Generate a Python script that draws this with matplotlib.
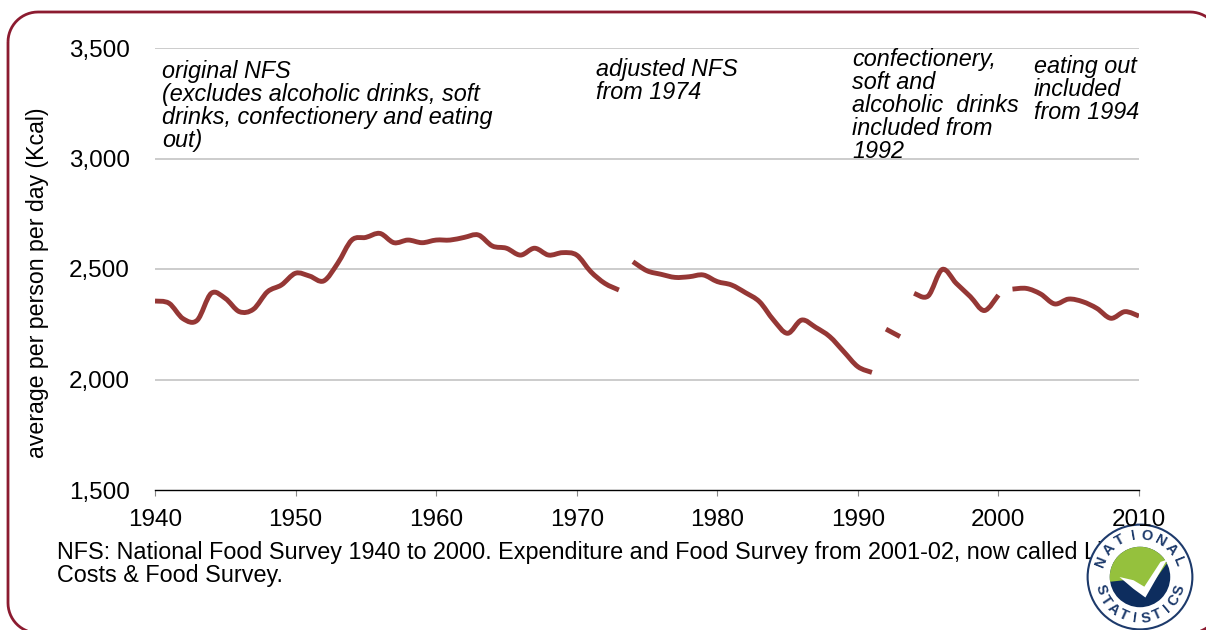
import matplotlib
matplotlib.use("Agg")
import matplotlib.pyplot as plt
from matplotlib.path import Path
from matplotlib.patches import PathPatch, Circle, Polygon
import numpy as np

plt.rcParams['font.family'] = ['Liberation Sans', 'DejaVu Sans']

# ---------------- data ----------------
years = list(range(1940, 2011))
kcal = [2355, 2345, 2275, 2268, 2390, 2367, 2307, 2318, 2397, 2428,
        2481, 2468, 2446, 2526, 2631, 2643, 2661, 2619, 2631, 2619,
        2631, 2631, 2643, 2654, 2604, 2594, 2563, 2594, 2563, 2574,
        2563, 2488, 2435, 2405, 2533, 2492, 2476, 2462, 2465, 2473,
        2443, 2428, 2393, 2352, 2269, 2209, 2269, 2236, 2194, 2126,
        2058, 2032, 2228, 2194, 2390, 2378, 2498, 2435, 2375, 2312,
        2382, 2409, 2412, 2387, 2342, 2364, 2352, 2322, 2277, 2307,
        2287]
segment_starts = [1940, 1974, 1992, 1994, 2001]   # breaks in the series

y_ticks = [1500, 2000, 2500, 3000, 3500]
y_tick_labels = ["1,500", "2,000", "2,500", "3,000", "3,500"]
x_ticks = [1940, 1950, 1960, 1970, 1980, 1990, 2000, 2010]

notes = [
    (1940.5, "original NFS\n(excludes alcoholic drinks, soft\ndrinks, confectionery and eating\nout)"),
    (1971.4, "adjusted NFS\nfrom 1974"),
    (1989.6, "confectionery,\nsoft and\nalcoholic  drinks\nincluded from\n1992"),
    (2002.5, "eating out\nincluded\nfrom 1994"),
]
note_tops = [3447, 3457, 3502, 3470]
footnote = ("NFS: National Food Survey 1940 to 2000. Expenditure and Food Survey from 2001-02, now called Living\n"
            "Costs & Food Survey.")
ylabel = "average per person per day (Kcal)"

LINE = "#953735"
BORDER = "#8C1B30"

W, H = 1206, 630
fig = plt.figure(figsize=(W / 100, H / 100), dpi=100)
fig.patch.set_facecolor("white")


def rounded_rect_path(x0, y0, x1, y1, r):
    """Rounded rectangle in pixel units (origin top-left), returned in figure fractions."""
    pts = []
    def arc(cx, cy, a0, a1):
        for t in np.linspace(np.deg2rad(a0), np.deg2rad(a1), 16):
            pts.append((cx + r * np.cos(t), cy + r * np.sin(t)))
    # image coords: y down; angles measured with y down
    arc(x0 + r, y0 + r, 180, 270)      # top-left
    arc(x1 - r, y0 + r, 270, 360)      # top-right
    arc(x1 - r, y1 - r, 0, 90)         # bottom-right
    arc(x0 + r, y1 - r, 90, 180)       # bottom-left
    pts.append(pts[0])
    return Path([(px / W, 1 - py / H) for px, py in pts])


fig.patches.append(PathPatch(rounded_rect_path(8, 12, 1220, 633, 30), fill=False,
                             edgecolor=BORDER, linewidth=2.0, transform=fig.transFigure))

ax = fig.add_axes([155 / W, 1 - 490 / H, (1139 - 155) / W, (490 - 48) / H])
ax.set_zorder(11)
ax.patch.set_visible(False)
ax.set_xlim(1940, 2010)
ax.set_ylim(1500, 3500)

for s in ["top", "right", "left"]:
    ax.spines[s].set_visible(False)
ax.spines["bottom"].set_color("black")
ax.spines["bottom"].set_linewidth(1.0)

ax.set_yticks(y_ticks)
ax.set_yticklabels(y_tick_labels)
ax.set_xticks(x_ticks)
ax.tick_params(axis="y", length=0, pad=18, labelsize=17.5)
ax.tick_params(axis="x", length=4, direction="out", pad=10, labelsize=17.5, width=0.8, color="#888888")
for yv in y_ticks[1:]:
    ax.axhline(yv, color="#c8c8c8", linewidth=1.3, zorder=1)

# smooth segments (Catmull-Rom -> cubic Bezier in data coordinates)
bounds = segment_starts + [years[-1] + 1]
for a, b in zip(bounds[:-1], bounds[1:]):
    idx = [i for i, yr in enumerate(years) if a <= yr < b]
    P = np.array([[years[i], kcal[i]] for i in idx], dtype=float)
    if len(P) < 2:
        continue
    verts = [tuple(P[0])]
    codes = [Path.MOVETO]
    n = len(P)
    for i in range(n - 1):
        p0 = P[i - 1] if i > 0 else P[i]
        p1 = P[i]
        p2 = P[i + 1]
        p3 = P[i + 2] if i + 2 < n else P[i + 1]
        c1 = p1 + (p2 - p0) / 6.0
        c2 = p2 - (p3 - p1) / 6.0
        verts += [tuple(c1), tuple(c2), tuple(p2)]
        codes += [Path.CURVE4] * 3
    ax.add_patch(PathPatch(Path(verts, codes), fill=False, edgecolor=LINE,
                           linewidth=3.5, capstyle="butt", joinstyle="round", zorder=3))

for (x, txt), yt in zip(notes, note_tops):
    ax.text(x, yt, txt, fontsize=16.8, style="italic", va="top", ha="left",
            linespacing=1.0, color="black")

fig.text(38 / W, 1 - 283 / H, ylabel, rotation=90, fontsize=16.7, va="center", ha="center")
fig.text(57 / W, 1 - 541 / H, footnote, fontsize=16.8, va="top", ha="left", linespacing=1.0)

# National Statistics logo (simple drawing)
R = 54
lax = fig.add_axes([(1140 - R) / W, 1 - (577 + R) / H, 2 * R / W, 2 * R / H])
lax.set_zorder(10)
lax.set_xlim(-1, 1)
lax.set_ylim(-1, 1)
lax.set_aspect("equal")
lax.axis("off")
lax.add_patch(Circle((0, 0), 0.97, facecolor="white", edgecolor="#1d3a6b", linewidth=1.5, zorder=1))
lax.add_patch(Circle((0, 0), 0.56, facecolor="#0d2d5e", edgecolor="none", zorder=2))
th = np.linspace(np.pi * 0.15, np.pi * 1.05, 40)
green = [(0.56 * np.cos(t), 0.56 * np.sin(t)) for t in th] + [(-0.2, -0.05), (0.1, -0.3)]
lax.add_patch(Polygon(green, closed=True, facecolor="#95c13d", edgecolor="none", zorder=3))
lax.add_patch(Polygon([(-0.38, 0.0), (-0.12, -0.22), (0.1, -0.38), (0.5, 0.32), (0.38, 0.28), (0.08, -0.18), (-0.12, -0.06)],
                      closed=True, facecolor="white", edgecolor="none", zorder=4))
top_word = "NATIONAL"
for k, ch in enumerate(top_word):
    ang = np.deg2rad(158 - k * (136 / (len(top_word) - 1)))
    lax.text(0.77 * np.cos(ang), 0.77 * np.sin(ang), ch, rotation=np.rad2deg(ang) - 90,
             ha="center", va="center", fontsize=10.5, fontweight="bold", color="#1d3a6b")
bot_word = "STATISTICS"
for k, ch in enumerate(bot_word):
    ang = np.deg2rad(198 + k * (144 / (len(bot_word) - 1)))
    lax.text(0.77 * np.cos(ang), 0.77 * np.sin(ang), ch, rotation=np.rad2deg(ang) + 90,
             ha="center", va="center", fontsize=10.5, fontweight="bold", color="#1d3a6b")

fig.savefig("out.png", dpi=100, facecolor="white")
